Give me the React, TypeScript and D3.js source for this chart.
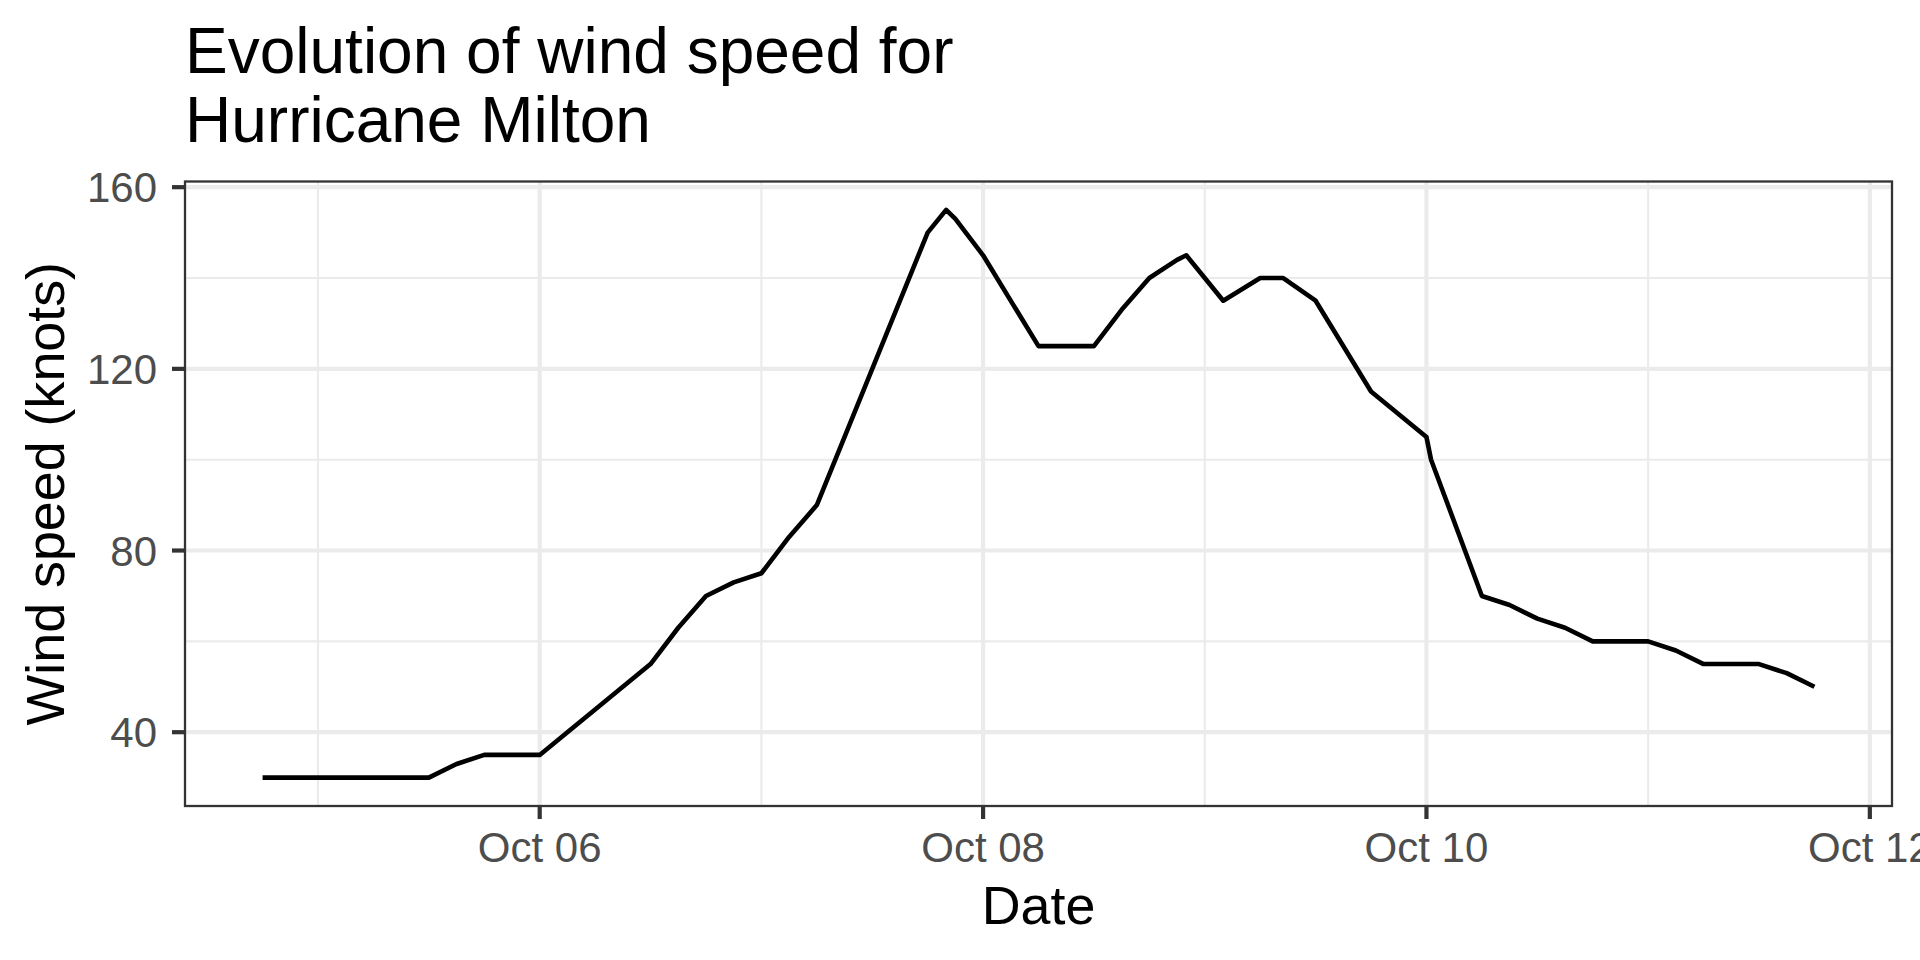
import * as d3 from "d3";

// observation times (UTC) and max sustained wind (knots)
const obsTimes = [
  "2024-10-04T18:00Z", "2024-10-05T00:00Z", "2024-10-05T06:00Z", "2024-10-05T12:00Z",
  "2024-10-05T15:00Z", "2024-10-05T18:00Z", "2024-10-06T00:00Z", "2024-10-06T06:00Z",
  "2024-10-06T12:00Z", "2024-10-06T15:00Z", "2024-10-06T18:00Z", "2024-10-06T21:00Z",
  "2024-10-07T00:00Z", "2024-10-07T03:00Z", "2024-10-07T06:00Z", "2024-10-07T12:00Z",
  "2024-10-07T18:00Z", "2024-10-07T20:00Z", "2024-10-07T21:00Z", "2024-10-08T00:00Z",
  "2024-10-08T06:00Z", "2024-10-08T12:00Z", "2024-10-08T15:00Z", "2024-10-08T18:00Z",
  "2024-10-08T21:00Z", "2024-10-08T22:00Z", "2024-10-09T00:00Z", "2024-10-09T02:00Z",
  "2024-10-09T06:00Z", "2024-10-09T08:30Z", "2024-10-09T12:00Z", "2024-10-09T18:00Z",
  "2024-10-10T00:00Z", "2024-10-10T00:30Z", "2024-10-10T06:00Z", "2024-10-10T09:00Z",
  "2024-10-10T12:00Z", "2024-10-10T15:00Z", "2024-10-10T18:00Z", "2024-10-11T00:00Z",
  "2024-10-11T03:00Z", "2024-10-11T06:00Z", "2024-10-11T12:00Z", "2024-10-11T15:00Z",
  "2024-10-11T18:00Z",
];
const windKts = [
  30, 30, 30, 30,
  33, 35, 35, 45,
  55, 63, 70, 73,
  75, 83, 90, 120,
  150, 155, 153, 145,
  125, 125, 133, 140,
  144, 145, 140, 135,
  140, 140, 135, 115,
  105, 100, 70, 68,
  65, 63, 60, 60,
  58, 55, 55, 53,
  50,
];

const xMajorTicks = ["2024-10-06", "2024-10-08", "2024-10-10", "2024-10-12"];
const xMinorTicks = ["2024-10-05", "2024-10-07", "2024-10-09", "2024-10-11"];
const yMajorTicks = [40, 80, 120, 160];
const yMinorTicks = [60, 100, 140];

const titleLines = ["Evolution of wind speed for", "Hurricane Milton"];
const xTitle = "Date";
const yTitle = "Wind speed (knots)";

export default function App() {
  const width = 1920;
  const height = 960;
  const marginLeft = 185;
  const marginRight = 28;
  const marginTop = 181.5;
  const marginBottom = 154;
  const font = "'Liberation Sans', Arial, Helvetica, sans-serif";

  const data = obsTimes.map((t, i) => ({ date: new Date(t), v: windKts[i] }));

  // ggplot-style 5% expansion on both axes
  const [d0, d1] = d3.extent(data, (d) => +d.date) as [number, number];
  const dx = (d1 - d0) * 0.05;
  const x = d3.scaleUtc()
    .domain([new Date(d0 - dx), new Date(d1 + dx)])
    .range([marginLeft, width - marginRight]);

  const [v0, v1] = d3.extent(data, (d) => d.v) as [number, number];
  const dv = (v1 - v0) * 0.05;
  const y = d3.scaleLinear()
    .domain([v0 - dv, v1 + dv])
    .range([height - marginBottom, marginTop]);

  const line = d3.line<{ date: Date; v: number }>()
    .x((d) => x(d.date))
    .y((d) => y(d.v));

  const fmt = d3.utcFormat("%b %d");
  const px = (s: string) => x(new Date(s + "T00:00Z"));

  const left = marginLeft;
  const right = width - marginRight;
  const top = marginTop;
  const bottom = height - marginBottom;

  return (
    <div style={{ position: "absolute", left: 0, top: 0 }}>
      <svg width={width} height={height} style={{ display: "block", background: "#fff" }} fontFamily={font}>
        {/* minor grid */}
        <g stroke="#EBEBEB" strokeWidth={2.1}>
          {yMinorTicks.map((t) => (
            <line key={"ym" + t} x1={left} x2={right} y1={y(t)} y2={y(t)} />
          ))}
          {xMinorTicks.map((t) => (
            <line key={"xm" + t} x1={px(t)} x2={px(t)} y1={top} y2={bottom} />
          ))}
        </g>
        {/* major grid */}
        <g stroke="#EBEBEB" strokeWidth={4.2}>
          {yMajorTicks.map((t) => (
            <line key={"yM" + t} x1={left} x2={right} y1={y(t)} y2={y(t)} />
          ))}
          {xMajorTicks.filter((t) => px(t) <= right).map((t) => (
            <line key={"xM" + t} x1={px(t)} x2={px(t)} y1={top} y2={bottom} />
          ))}
        </g>

        <path d={line(data) ?? ""} fill="none" stroke="#000" strokeWidth={4.6} strokeLinejoin="round" />

        <rect x={left} y={top} width={right - left} height={bottom - top} fill="none" stroke="#333333" strokeWidth={2.3} />

        {/* y axis */}
        <g>
          {yMajorTicks.map((t) => (
            <g key={"yt" + t} transform={`translate(0,${y(t)})`}>
              <line x1={left - 13} x2={left} stroke="#333333" strokeWidth={4.2} />
              <text x={left - 28} dy="0.36em" textAnchor="end" fontSize={42} fill="#4D4D4D">{t}</text>
            </g>
          ))}
        </g>
        {/* x axis */}
        <g>
          {xMajorTicks.map((t) => (
            <g key={"xt" + t} transform={`translate(${px(t)},0)`}>
              <line y1={bottom} y2={bottom + 13} stroke="#333333" strokeWidth={4.2} />
              <text y={861.5} textAnchor="middle" fontSize={42} fill="#4D4D4D">{fmt(new Date(t + "T00:00Z"))}</text>
            </g>
          ))}
        </g>

        <text x={(left + right) / 2} y={924} textAnchor="middle" fontSize={53.8} fill="#000">{xTitle}</text>
        <text transform={`translate(64,${(top + bottom) / 2}) rotate(-90)`} textAnchor="middle" fontSize={53.8} fill="#000">{yTitle}</text>

        <g fontSize={64} fill="#000">
          {titleLines.map((s, i) => (
            <text key={s} x={left} y={73.3 + i * 68.4}>{s}</text>
          ))}
        </g>
      </svg>
    </div>
  );
}
